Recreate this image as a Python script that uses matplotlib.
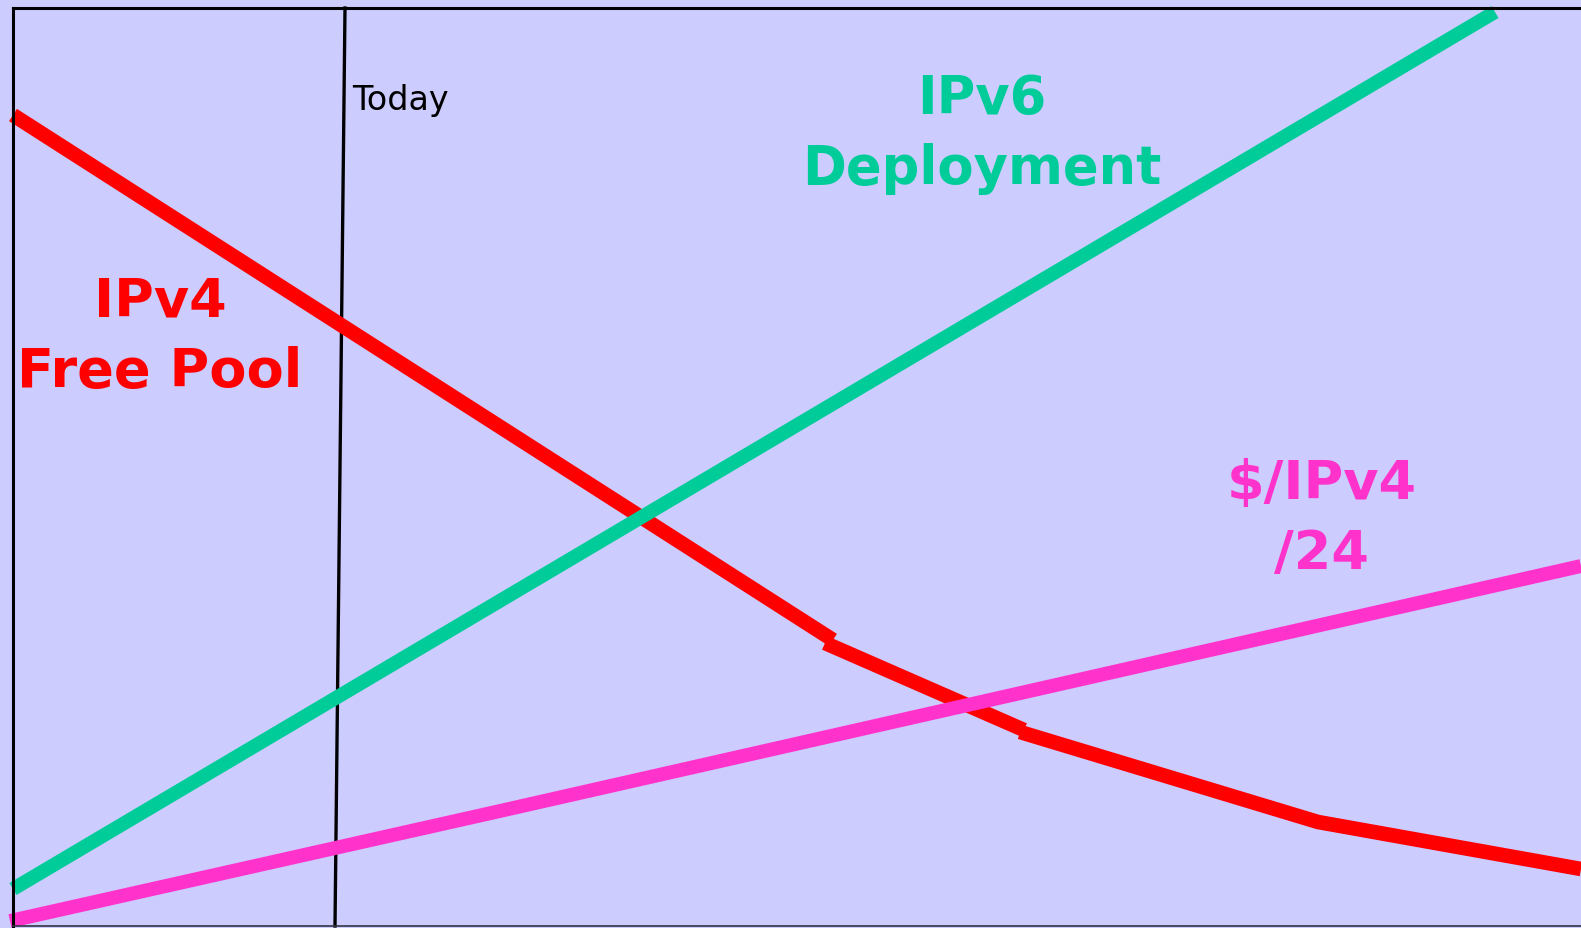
import matplotlib
matplotlib.use('Agg')
import matplotlib.pyplot as plt

# values (pixel-like units, y grows downward)
pool_x1 = [13, 833]
pool_y1 = [116, 641]
pool_x2 = [825, 1024]
pool_y2 = [644, 731]
pool_x3 = [1020, 1318, 1581]
pool_y3 = [733, 823, 870]

v6_x = [13, 1495]
v6_y = [890, 13]

price_x = [10, 500, 1581]
price_y = [922, 812, 567]

today_x = [345, 335]
today_y = [9, 927]

bg = '#CCCCFF'
red = '#FF0000'
green = '#00CC99'
pink = '#FF33CC'

fig = plt.figure(figsize=(15.81, 9.29), dpi=100, facecolor=bg)
ax = fig.add_axes([13 / 1581, 2 / 929, 1.0, 918 / 929])
ax.set_facecolor(bg)
ax.set_xlim(13, 1581 + 13)
ax.set_ylim(927, 9)
ax.set_xticks([])
ax.set_yticks([])
for side in ['left', 'top']:
    ax.spines[side].set_linewidth(2.2)
ax.spines['bottom'].set_linewidth(1.2)
ax.spines['bottom'].set_color('#333344')
ax.spines['right'].set_visible(False)

ax.plot(today_x, today_y, color='black', lw=2.4, clip_on=False)

for xs, ys in [(pool_x1, pool_y1), (pool_x2, pool_y2), (pool_x3, pool_y3)]:
    ax.plot(xs, ys, color=red, lw=10.5, solid_capstyle='butt', clip_on=False)
ax.plot(v6_x, v6_y, color=green, lw=10, solid_capstyle='butt', clip_on=False)
ax.plot(price_x, price_y, color=pink, lw=10, solid_capstyle='butt', clip_on=False)

lbl = dict(fontweight='bold', ha='center', va='center', linespacing=1.45)
ax.text(160, 337, 'IPv4\nFree Pool', color=red, fontsize=39, **lbl)
ax.text(982, 134, 'IPv6\nDeployment', color=green, fontsize=38, **lbl)
ax.text(1322, 519, '$/IPv4\n/24', color=pink, fontsize=39, **lbl)
ax.text(352, 101, 'Today', color='black', fontsize=24, ha='left', va='center')

fig.savefig('out.png', dpi=100, facecolor=bg)
